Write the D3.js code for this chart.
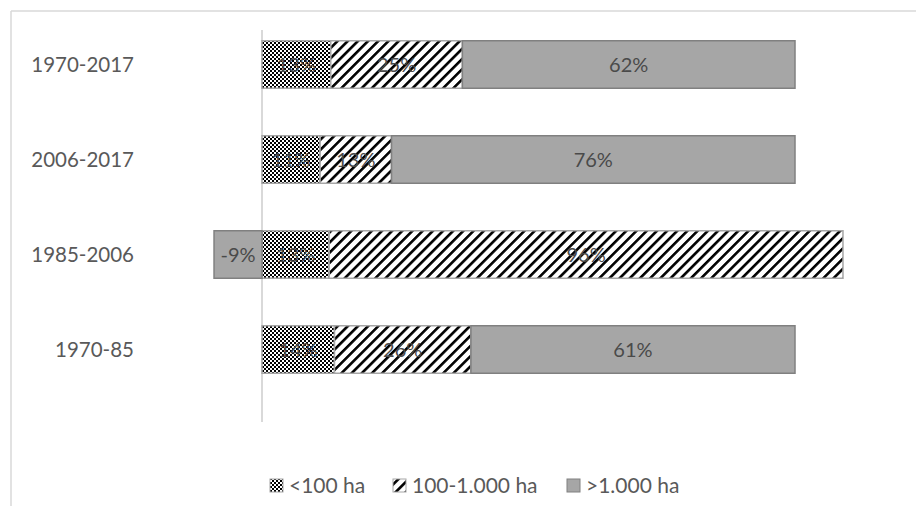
<!DOCTYPE html>
<html>
<head>
<meta charset="utf-8">
<script src="https://cdn.jsdelivr.net/npm/d3@7"></script>
<style>
  html, body { margin: 0; padding: 0; background: #fff; }
  svg { display: block; font-family: Lato, "Open Sans", sans-serif; }
</style>
</head>
<body>
<svg id="chart" width="916" height="506"></svg>
<script>
// ---- data ----
const categories = ["1970-2017", "2006-2017", "1985-2006", "1970-85"];
const small  = [12.9, 10.9, 12.6, 13.6];   // <100 ha
const medium = [24.7, 13.4, 96.4, 25.6];   // 100-1.000 ha
const large  = [62.4, 75.7, -9.0, 60.8];   // >1.000 ha
const seriesNames = ["<100 ha", "100-1.000 ha", ">1.000 ha"];
const seriesKeys = ["small", "medium", "large"];

const rows = categories.map((c, i) => ({ cat: c, small: small[i], medium: medium[i], large: large[i] }));

const svg = d3.select("#chart");
const defs = svg.append("defs");

// checkerboard pattern
const chk = defs.append("pattern").attr("id", "pChk").attr("patternUnits", "userSpaceOnUse")
  .attr("width", 4).attr("height", 4);
chk.append("rect").attr("width", 4).attr("height", 4).attr("fill", "#fff");
chk.append("rect").attr("width", 2).attr("height", 2).attr("fill", "#000");
chk.append("rect").attr("x", 2).attr("y", 2).attr("width", 2).attr("height", 2).attr("fill", "#000");

// wide upward diagonal
const dg = defs.append("pattern").attr("id", "pDiag").attr("patternUnits", "userSpaceOnUse")
  .attr("width", 7.2).attr("height", 10).attr("patternTransform", "rotate(45)");
dg.append("rect").attr("width", 7.2).attr("height", 10).attr("fill", "#fff");
dg.append("rect").attr("x", 0).attr("y", 0).attr("width", 2.6).attr("height", 10).attr("fill", "#000");

const fills = { small: "url(#pChk)", medium: "url(#pDiag)", large: "#a6a6a6" };
const strokes = { small: "#a6a6a6", medium: "#a6a6a6", large: "#808080" };

// chart border (top + left visible)
svg.append("line").attr("x1", 11).attr("x2", 916).attr("y1", 11).attr("y2", 11)
  .attr("stroke", "#d9d9d9").attr("stroke-width", 1.5);
svg.append("line").attr("x1", 11).attr("x2", 11).attr("y1", 11).attr("y2", 506)
  .attr("stroke", "#d9d9d9").attr("stroke-width", 1.5);

const x = d3.scaleLinear().domain([0, 100]).range([262, 795]);
const y = d3.scaleBand().domain(categories).range([17, 397]).paddingInner(0.5).paddingOuter(0.25);

const stack = d3.stack().keys(seriesKeys).offset(d3.stackOffsetDiverging);
const stacked = stack(rows);

// zero axis line
svg.append("line").attr("x1", x(0)).attr("x2", x(0)).attr("y1", 30).attr("y2", 422)
  .attr("stroke", "#d9d9d9").attr("stroke-width", 2);

const g = svg.append("g");
stacked.forEach(s => {
  const key = s.key;
  g.selectAll(null).data(s).enter().append("rect")
    .attr("x", d => x(Math.min(d[0], d[1])))
    .attr("y", d => y(d.data.cat))
    .attr("width", d => Math.abs(x(d[1]) - x(d[0])))
    .attr("height", y.bandwidth())
    .attr("fill", fills[key])
    .attr("stroke", strokes[key])
    .attr("stroke-width", 1.5);
});
stacked.forEach(s => {
  const key = s.key;
  g.selectAll(null).data(s).enter().append("text")
    .attr("x", d => x((d[0] + d[1]) / 2))
    .attr("y", d => y(d.data.cat) + y.bandwidth() / 2)
    .attr("dy", "0.35em")
    .attr("text-anchor", "middle")
    .attr("font-size", 20)
    .attr("fill", "#4a4a4a")
    .text(d => Math.round(d.data[key]) + "%");
});

// category labels
svg.append("g").selectAll("text").data(categories).enter().append("text")
  .attr("x", 134)
  .attr("y", d => y(d) + y.bandwidth() / 2)
  .attr("dy", "0.35em")
  .attr("text-anchor", "end")
  .attr("font-size", 20.5)
  .attr("fill", "#595959")
  .text(d => d);

// legend
const legX = [270, 393, 567];
const leg = svg.append("g");
seriesKeys.forEach((k, i) => {
  leg.append("rect").attr("x", legX[i]).attr("y", 479).attr("width", 13).attr("height", 13)
    .attr("fill", fills[k]).attr("stroke", strokes[k]).attr("stroke-width", 1);
  leg.append("text").attr("x", legX[i] + 19).attr("y", 486).attr("dy", "0.35em")
    .attr("font-size", 21).attr("fill", "#595959").text(seriesNames[i]);
});
</script>
</body>
</html>
